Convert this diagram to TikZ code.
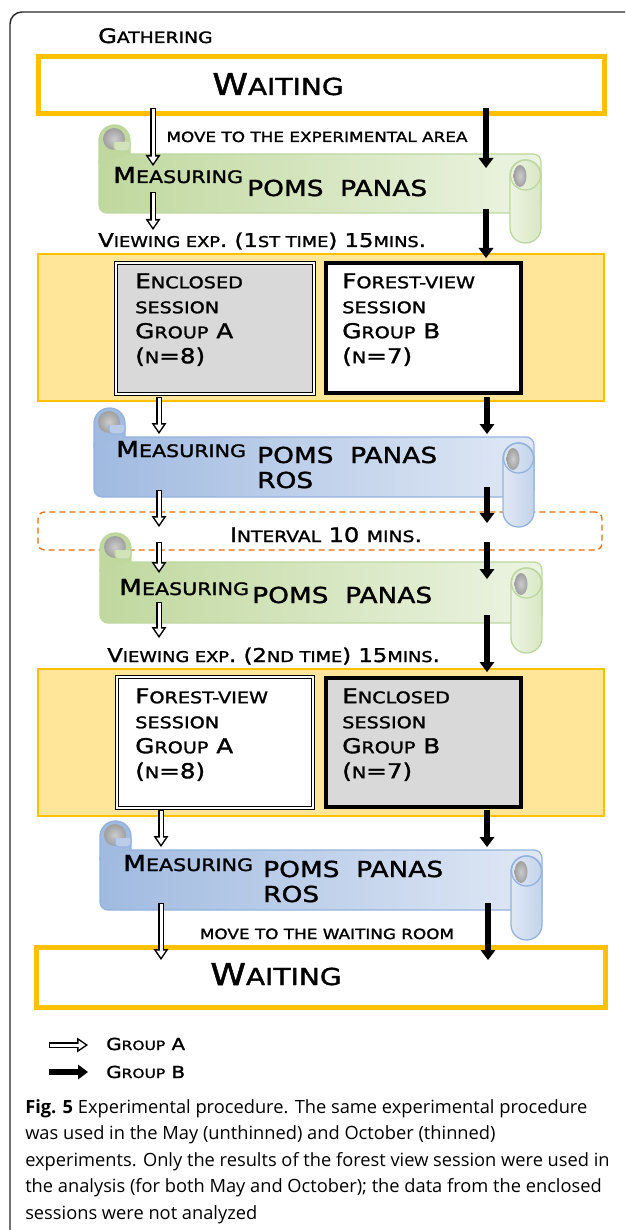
\documentclass[tikz,border=0pt]{standalone}
\usepackage{fontspec}
\usepackage{scalefnt}
\setmainfont{Open Sans}
\newfontfamily\copper[FakeStretch=1.2, FakeBold=1.6]{DejaVu Sans}
\usetikzlibrary{arrows.meta, fit}
\definecolor{boxOrange}{RGB}{255, 192, 0}
\definecolor{phaseYellow}{RGB}{255, 230, 153}
\definecolor{pauseOrange}{RGB}{228, 108, 10}
\definecolor{sessGray}{RGB}{217, 217, 217}
\definecolor{greenL}{RGB}{192, 216, 158}
\definecolor{greenR}{RGB}{236, 244, 226}
\definecolor{greenD}{RGB}{190, 215, 160}
\definecolor{blueL}{RGB}{160, 186, 224}
\definecolor{blueR}{RGB}{224, 232, 245}
\definecolor{blueD}{RGB}{149, 179, 223}
\definecolor{frameGray}{RGB}{40, 40, 40}

% fake small caps
\newcommand\lc[1]{{\scalefont{0.78}\MakeUppercase{#1}}}
\newcommand\fs[2]{\fontsize{#1pt}{#2pt}\selectfont}

% scroll banner: x1, y1 (body top), x2, y2 (body bottom), colour prefix
\newcommand\scroll[5]{%
  \shadedraw[left color=#5L, right color=#5R, draw=#5D, line width=1pt, rounded corners=6pt] (#1,#2) rectangle (#3,#4);
  \filldraw[fill=#5L, draw=#5D, line width=1pt, rounded corners=11.5pt] (#1,#2+10) |- (#1+31,#2-29) -- (#1+31,#2);
  \shade[inner color=gray!40, outer color=gray!75] (#1+15,#2-15) circle[radius=11];
  \filldraw[fill=#5L!60!#5R, draw=#5D, line width=0.8pt, rounded corners=3pt] (#1+15,#2-12) -- (#1+15,#2-3) -- (#1+31,#2-3) -- (#1+31,#2-12);
  \shadedraw[left color=#5R, right color=#5L!45!#5R, draw=#5D, line width=1pt, rounded corners=11.5pt] (#3-31,#2+6) rectangle (#3,#4+30);
  \draw[#5D, line width=1pt] (#3-15.5,#2+21) circle[radius=15];
  \shade[inner color=gray!40, outer color=gray!75] (#3-21,#2+22) ellipse[x radius=6.5, y radius=11];
}

\tikzset{
  px/.style={x=0.75pt, y=-0.75pt},
  waitbox/.style={draw=boxOrange, line width=3.75pt, inner sep=0pt},
  phase/.style={fill=phaseYellow, draw=boxOrange, line width=1.1pt, inner sep=0pt},
  pause/.style={draw=pauseOrange, dash pattern=on 4.5pt off 3pt, line width=1pt, rounded corners=5pt, inner sep=0pt},
  sessA/.style={draw=black, double=white, double distance=1.4pt, line width=0.9pt, inner sep=0pt},
  sessB/.style={draw=black, line width=3pt, inner sep=0pt},
  txt/.style={font=\copper, inner sep=0pt, anchor=base west},
  sesstext/.style={font={\copper\fs{15.4}{18.75}}, align=left, inner sep=0pt, anchor=north west},
  grpB/.style={line width=4.5pt, -{Triangle[length=7.5pt, width=11.25pt, line width=0pt]}},
  grpAout/.style={line width=4.5pt, -{Triangle[length=8.25pt, width=11.25pt, line width=0pt]}},
  grpAin/.style={draw=white, line width=2.25pt, shorten >=2pt, shorten <=1.1pt, -{Triangle[length=5.1pt, width=7pt, line width=0pt]}},
}

\begin{document}
\begin{tikzpicture}[px]
  \useasboundingbox (0,0) rectangle (625,1230);
  \clip (0,0) rectangle (625,1230);
  % frame
  \draw[frameGray, line width=1.1pt, rounded corners=9pt] (10,1240) -- (10,12) -- (640,12);

  % gathering
  \node[txt, font={\copper\fs{15}{18}}] (gather) at (98,43) {G\lc{athering}};
  \node[waitbox, fit={(38,57) (604,114)}] (wait1) {};
  \node[txt, anchor=base, font={\copper\fs{22.5}{27}}] (wait1t) at (278,95) {W\lc{aiting}};
  \node[txt, anchor=base, font={\copper\fs{13.5}{16}}] (move1) at (317,142) {\lc{move to the experimental area}};

  % measuring 1
  \scroll{99}{154}{541}{213}{green}
  \node[txt, font={\copper\fs{16.5}{20}}] (meas1) at (113,183) {M\lc{easuring}};
  \node[txt, font={\copper\fs{16.5}{20}}] (poms1) at (247,196) {POMS\ \ PANAS};
  \node[txt, font={\copper\fs{14.25}{17}}] (view1) at (98,247) {V\lc{iewing exp}. (1\lc{st time}) 15\lc{mins}.};

  % first viewing
  \node[phase, fit={(38,254) (604,401)}] (phase1) {};
  \node[sessA, fill=sessGray, fit={(116,263) (314,394)}] (encl1) {};
  \node[sessB, fill=white, fit={(326,263) (521,393)}] (forest1) {};
  \node[sesstext] (encl1t) at (135,273) {E\lc{nclosed}\\ \lc{session}\\ G\lc{roup} A\\ (\lc{n}=8)};
  \node[sesstext] (forest1t) at (342,273) {F\lc{orest-view}\\ \lc{session}\\ G\lc{roup} B\\ (\lc{n}=7)};

  % interval
  \node[pause, fit={(38,512) (602,550)}] (pause) {};
  \node[txt, anchor=base, font={\copper\fs{15}{18}}] (pauset) at (326,542) {I\lc{nterval} 10 \lc{mins}.};

  % measuring 2
  \scroll{94}{437}{534}{497}{blue}
  \node[txt, font={\copper\fs{16.5}{20}}] (meas2) at (116,457) {M\lc{easuring}};
  \node[txt, font={\copper\fs{16.5}{20}}] (poms2) at (257,463) {POMS\ \ PANAS};
  \node[txt, font={\copper\fs{16.5}{20}}] (ros2) at (257,488) {ROS};

  % measuring 3
  \scroll{100}{562}{542}{623}{green}
  \node[txt, font={\copper\fs{16.5}{20}}] (meas3) at (119,595) {M\lc{easuring}};
  \node[txt, font={\copper\fs{16.5}{20}}] (poms3) at (252,603) {POMS\ \ PANAS};
  \node[txt, font={\copper\fs{14.25}{17}}] (view2) at (107,662) {V\lc{iewing exp}. (2\lc{nd time}) 15\lc{mins}.};

  % second viewing
  \node[phase, fit={(38,669) (604,816)}] (phase2) {};
  \node[sessA, fill=white, fit={(117,677) (313,808)}] (forest2) {};
  \node[sessB, fill=sessGray, fit={(326,678) (521,807)}] (encl2) {};
  \node[sesstext] (forest2t) at (135,688) {F\lc{orest-view}\\ \lc{session}\\ G\lc{roup} A\\ (\lc{n}=8)};
  \node[sesstext] (encl2t) at (342,688) {E\lc{nclosed}\\ \lc{session}\\ G\lc{roup} B\\ (\lc{n}=7)};

  % measuring 4
  \scroll{100}{850}{542}{910}{blue}
  \node[txt, font={\copper\fs{16.5}{20}}] (meas4) at (123,871) {M\lc{easuring}};
  \node[txt, font={\copper\fs{16.5}{20}}] (poms4) at (263,877) {POMS\ \ PANAS};
  \node[txt, font={\copper\fs{16.5}{20}}] (ros4) at (263,902) {ROS};
  \node[txt, anchor=base, font={\copper\fs{13.5}{16}}] (move2) at (327,939) {\lc{move to the waiting room}};

  % back to waiting
  \node[waitbox, fit={(36,947) (605,1007)}] (wait2) {};
  \node[txt, anchor=base, font={\copper\fs{22.5}{27}}] (wait2t) at (276,985) {W\lc{aiting}};

  % arrow ends
  \foreach \i/\x/\ya/\yb in {1/153/108/166, 2/153/192/230, 3/159/397/434, 4/159/490/527,
      5/159/542/573, 6/159/602/638, 7/161/810/847, 8/161/903/960}
    {\coordinate (a\i-s) at (\x,\ya); \coordinate (a\i-e) at (\x,\yb);}
  \foreach \i/\x/\ya/\yb in {1/486/108/168, 2/486/209/258, 3/487/397/434, 4/487/487/523,
      5/487/542/579, 6/487/615/672, 7/487/810/847, 8/488/903/960}
    {\coordinate (b\i-s) at (\x,\ya); \coordinate (b\i-e) at (\x,\yb);}
  \foreach \i in {1,...,8} {
    \draw[grpAout] (a\i-s) -- (a\i-e);
    \draw[grpAin] (a\i-s) -- (a\i-e);
    \draw[grpB] (b\i-s) -- (b\i-e);
  }

  % legend
  \coordinate (legA-s) at (49,1045); \coordinate (legA-e) at (88,1045);
  \coordinate (legB-s) at (49,1072); \coordinate (legB-e) at (88,1072);
  \draw[grpAout] (legA-s) -- (legA-e);
  \draw[grpAin] (legA-s) -- (legA-e);
  \draw[grpB] (legB-s) -- (legB-e);
  \node[txt, font={\copper\fs{12.4}{15}}] (legAt) at (106,1050) {G\lc{roup} A};
  \node[txt, font={\copper\fs{12.4}{15}}] (legBt) at (106,1078) {G\lc{roup} B};

  % caption
  \node[anchor=north west, align=left, inner sep=0pt, font={\fs{13.7}{19.9}}] (caption) at (25,1099)
    {\textbf{Fig. 5} Experimental procedure. The same experimental procedure\\
     was used in the May (unthinned) and October (thinned)\\
     experiments. Only the results of the forest view session were used in\\
     the analysis (for both May and October); the data from the enclosed\\
     sessions were not analyzed};
\end{tikzpicture}
\end{document}
